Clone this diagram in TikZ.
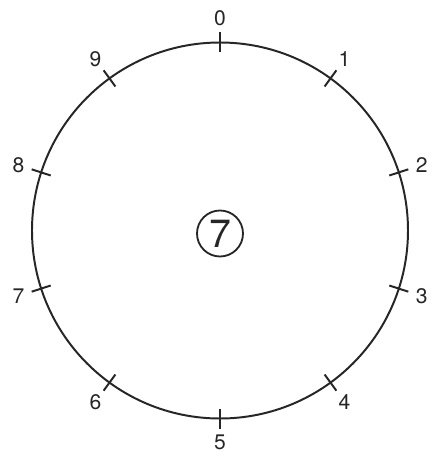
\documentclass[tikz,border=0pt]{standalone}
\usepackage{fontspec}
\setmainfont{TeX Gyre Heros}

\begin{document}
\begin{tikzpicture}[line width=1.4pt, draw=black!85, lab/.style={text=black!85, font=\fontsize{15}{17}\selectfont}]
\useasboundingbox (-5.5,-5.6625) rectangle (5.625,5.7625);
\draw (0,0) circle (4.7);
% ticks
\draw (90:4.45) -- (90:4.95);\draw (54:4.45) -- (54:4.95);\draw (18:4.45) -- (18:4.95);\draw (-18:4.45) -- (-18:4.95);\draw (-54:4.45) -- (-54:4.95);
\draw (-90:4.45) -- (-90:4.95);\draw (-126:4.45) -- (-126:4.95);\draw (-162:4.45) -- (-162:4.95);\draw (162:4.45) -- (162:4.95);\draw (126:4.45) -- (126:4.95);
% digits
\node[lab] (l0) at (90:5.3) {0};\node[lab] (l1) at (54:5.3) {1};\node[lab] (l2) at (18:5.3) {2};\node[lab] (l3) at (-18:5.3) {3};\node[lab] (l4) at (-54:5.3) {4};
\node[lab] (l5) at (-90:5.3) {5};\node[lab] (l6) at (-126:5.3) {6};\node[lab] (l7) at (-162:5.3) {7};\node[lab] (l8) at (162:5.3) {8};\node[lab] (l9) at (126:5.3) {9};
\node[draw, circle, line width=1.3pt, minimum size=1.15cm, inner sep=0pt, text=black!85, font=\fontsize{28}{30}\selectfont] (hand) at (0,-0.075) {7};
\end{tikzpicture}
\end{document}
